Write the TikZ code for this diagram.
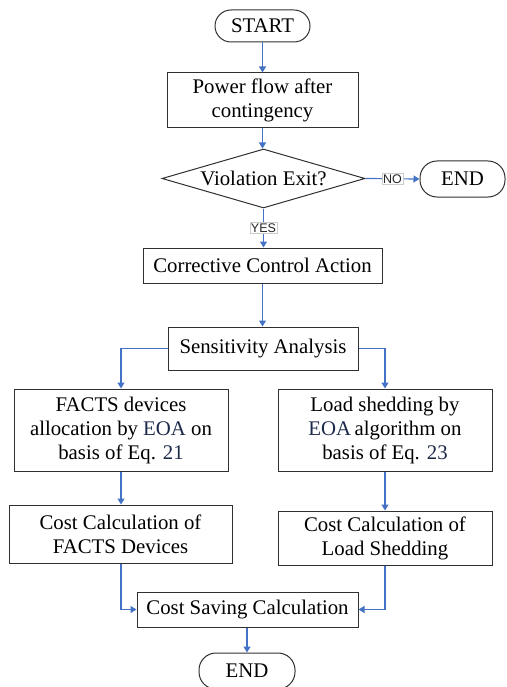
\documentclass[tikz,border=0pt]{standalone}
\usepackage{fontspec}
\setmainfont{Liberation Serif}
\newfontfamily\labelfont{Liberation Sans}
\usetikzlibrary{shapes.geometric,arrows.meta}
\definecolor{flowblue}{HTML}{4472C4}
\definecolor{refnavy}{HTML}{1C2A4A}
\definecolor{boxline}{HTML}{303030}
\newcommand{\hl}[1]{\textcolor{refnavy}{#1}}
\tikzset{
  x=1pt, y=1pt,
  base/.style={draw=boxline, line width=1pt, fill=white, align=center, inner sep=0pt,
    font=\fontsize{20.8}{24}\selectfont},
  procbox/.style={base, rectangle},
  termbox/.style={base, rectangle, rounded corners=16pt},
  decbox/.style={base, diamond, aspect=3.44},
  flow/.style={draw=flowblue, line width=1.2pt, -{Triangle[width=7pt,length=6pt]}},
  flowlabel/.style={fill=white, draw=black!20, line width=0.5pt, inner sep=1.2pt,
    font=\labelfont\fontsize{12.5}{14}\selectfont, text=black!85}
}
\begin{document}
\begin{tikzpicture}
\useasboundingbox (0,0) rectangle (506,-687);
\node[termbox, minimum width=95, minimum height=32] (start) at (262.5,-26) {START};
\node[procbox, minimum width=191, minimum height=55] (pf) at (262.5,-100.5) {Power flow after\\contingency};
\node[decbox, minimum width=203, minimum height=59] (dec) at (263.5,-178.5) {Violation Exit?};
\node[termbox, minimum width=85, minimum height=36, rounded corners=17pt] (endA) at (462.5,-179) {END};
\node[procbox, minimum width=239, minimum height=35] (cca) at (262.5,-265.5) {Corrective Control Action};
\node[procbox, minimum width=190, minimum height=43] (sa) at (263,-348.5) {Sensitivity Analysis};
\node[procbox, minimum width=214, minimum height=82] (facts) at (121,-430) {FACTS devices\\allocation by \hl{EOA} on\\basis of Eq. \hl{21}};
\node[procbox, minimum width=214, minimum height=82] (load) at (385,-430) {Load shedding by\\\hl{EOA}\,algorithm on\\basis of Eq. \hl{23}};
\node[procbox, minimum width=223, minimum height=58] (cf) at (120.5,-534) {Cost Calculation of\\FACTS Devices};
\node[procbox, minimum width=214, minimum height=54] (cl) at (385,-538) {Cost Calculation of\\Load Shedding};
\node[procbox, minimum width=221, minimum height=35] (cs) at (247.5,-609.5) {Cost Saving Calculation};
\node[termbox, minimum width=96, minimum height=36, rounded corners=17pt] (endB) at (247,-671) {END};

\draw[flow] (start) -- (pf);
\draw[flow] (pf.south) -- (pf.south |- dec.north);
\draw[flow] (dec.east) -- node[flowlabel] {NO} (endA.west);
\draw[flow] (dec.south) -- node[flowlabel] {YES} (dec.south |- cca.north);
\draw[flow] (cca.south) -- (cca.south |- sa.north);
\draw[flow] (sa.west) -| (facts.north);
\draw[flow] (sa.east) -| (load.north);
\draw[flow] (facts.south) -- (facts.south |- cf.north);
\draw[flow] (load.south) -- (cl.north);
\draw[flow] (facts.south |- cf.south) |- (cs.west);
\draw[flow] (cl.south) |- (cs.east);
\draw[flow] (cs.south -| endB.north) -- (endB.north);
\end{tikzpicture}
\end{document}
